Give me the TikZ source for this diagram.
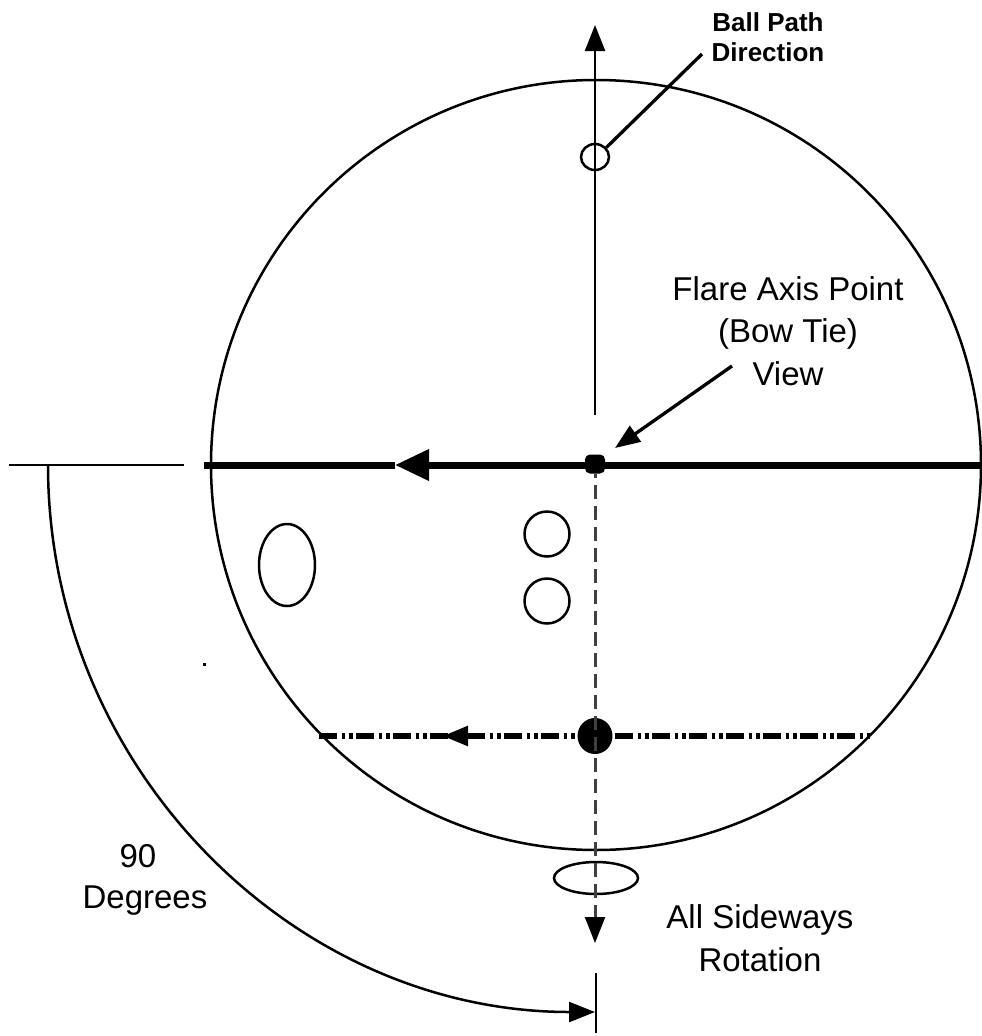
\documentclass[tikz,border=0pt]{standalone}
\usepackage{fontspec}
\setmainfont{Liberation Sans}
\usepackage{tikz}
\usetikzlibrary{
  arrows.meta,
  positioning,
  shapes.geometric,
  calc,
}
\tikzset{
  thinLine/.style={line width=2.5pt, draw=black},
  axisLine/.style={line width=7pt, draw=black},
  arrowHead/.style={
    -{Triangle[length=26pt,width=20pt]}, line width=2.5pt, draw=black,
  },
  arrowAxis/.style={
    -{Triangle[length=34pt,width=30pt]}, line width=7pt, draw=black,
  },
  arrowFlow/.style={
    -{Triangle[length=25pt,width=20pt]}, line width=2.5pt, draw=black,
  },
  arrowFlare/.style={
    -{Triangle[length=25pt,width=19pt]}, line width=3.3pt, draw=black,
  },
  dashAxis/.style={
    line width=3pt, draw=black!75, dash pattern=on 14pt off 7pt,
    dash phase=9.5pt,
  },
  dashDotDot/.style={
    line width=6.3pt, draw=black,
    dash pattern=on 17.6pt off 5pt on 3.8pt off 3.8pt on 3.8pt off 3pt,
  },
  ring/.style={
    circle, draw=black, line width=2.5pt, fill=none, minimum size=#1,
    inner sep=0pt,
  },
  oval/.style={
    ellipse, draw=black, line width=2.5pt, fill=none, inner sep=0pt,
  },
  label/.style={
    align=center, inner sep=0pt, font=\fontsize{33}{42.5}\selectfont,
  },
  labelBold/.style={
    align=center, inner sep=0pt, font=\fontsize{26}{30}\selectfont\bfseries,
  },
}

\begin{document}
\begin{tikzpicture}[x=1pt, y=-1pt]

\useasboundingbox (0,0) rectangle (982,1036);

% Ball and its marks
\node[ring=770pt] (ball) at (596,465) {};
\node[ring=45pt] (holeUp) at (547,534) {};
\node[ring=45pt] (holeDown) at (547,601) {};
\node[oval, minimum width=56pt, minimum height=82pt] (thumb) at (287,565) {};
\node[oval, minimum width=28pt, minimum height=26pt] (pathMark) at (595,157) {};
\node[oval, minimum width=84pt, minimum height=32pt] (sideMark) at (596,878) {};

% Points on the axes
\node[rectangle, fill=black, minimum width=20pt, minimum height=19pt,
      rounded corners=5pt, inner sep=0pt] (flarePoint) at (595,464) {};
\node[ellipse, fill=black, minimum width=35pt, minimum height=36pt,
      inner sep=0pt] (sidePoint) at (595,736) {};
\node[rectangle, fill=black, minimum size=3pt, inner sep=0pt] (speck) at (204,664) {};

% Labels
\node[labelBold] (ballText) at (768,37) {Ball Path\\Direction};
\node[label] (flareText) at (788,331) {Flare Axis Point\\(Bow Tie)\\View};
\node[label, anchor=base] (degNum) at (138,867) {90};
\node[label, anchor=base] (degText) at (145,908) {Degrees};
\node[label] (sideText) at (760,938) {All Sideways\\Rotation};

% Free ends
\coordinate (pathStart) at (595,415);
\coordinate (pathTip) at (595,25);
\coordinate (axisLeft) at (204,465);
\coordinate (axisRight) at (981,465);
\coordinate (axisTip) at (395,465);
\coordinate (flowLeft) at (319,736);
\coordinate (flowRight) at (870,736);
\coordinate (flowBase) at (468,736);
\coordinate (flowTip) at (443,736);
\coordinate (downTip) at (595,943);
\coordinate (leaderEnd) at (702,54);
\coordinate (flareStart) at (732,366);
\coordinate (flareTip) at (615,448);
\coordinate (refLeft) at (9,465);
\coordinate (refRight) at (184,465);
\coordinate (tickTop) at (596,973);
\coordinate (tickBottom) at (596,1033);

% Axes
\draw[arrowHead] (pathStart) -- (pathTip);
\draw[arrowAxis] (axisRight) -- (axisTip);
\draw[axisLine] (axisTip) -- (axisLeft);
\draw[dashDotDot] (flowLeft) -- (flowRight);
\draw[arrowFlow] (flowBase) -- (flowTip);
\draw[dashAxis] (flarePoint.south) -- ($(downTip) + (0,-24)$);
\draw[arrowHead] ($(downTip) + (0,-26)$) -- (downTip);

% Leaders
\draw[line width=3.3pt] (pathMark.40) -- (leaderEnd);
\draw[arrowFlare] (flareStart) -- (flareTip);

% 90 degree sweep
\draw[thinLine] (refLeft) -- (refRight);
\draw[thinLine] (tickTop) -- (tickBottom);
\draw[arrowHead] (48,465) arc[start angle=180, end angle=270, radius=547pt];

\end{tikzpicture}
\end{document}
